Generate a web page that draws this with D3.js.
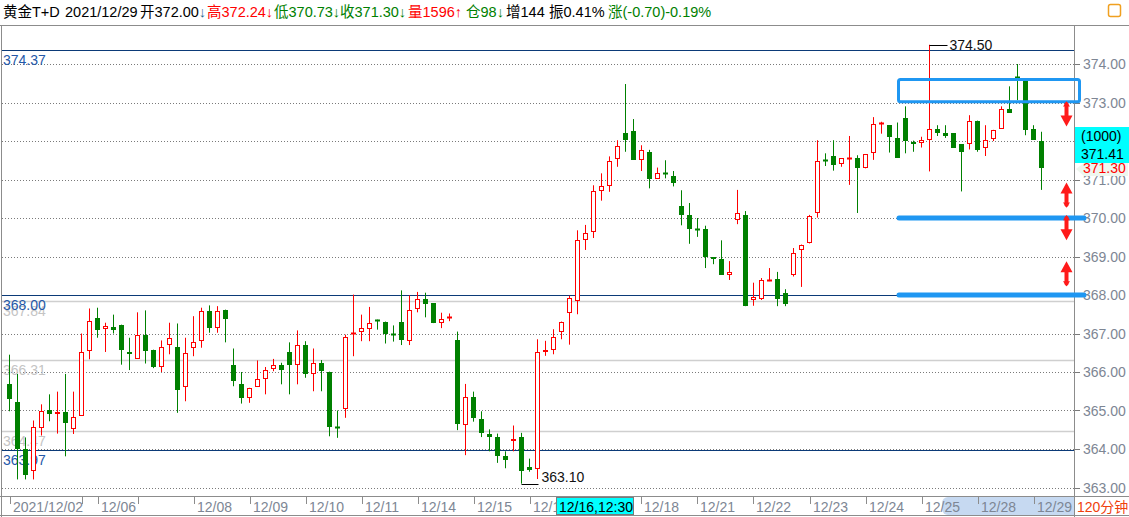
<!DOCTYPE html>
<html><head><meta charset="utf-8">
<script src="https://cdn.jsdelivr.net/npm/d3@7"></script>
<style>
body{margin:0;background:#fff;overflow:hidden;}
svg{display:block;}
text{font-family:"Liberation Sans","Noto Sans CJK SC",Arial,sans-serif;}
</style>
</head><body>
<svg id="c" width="1129" height="517"></svg>
<script>
// ---- data (120-minute bars, 黄金T+D) ----
const opens = [365.68,365.23,363.99,363.42,364.54,365.00,364.90,364.95,364.52,364.86,
366.55,367.41,367.12,367.17,367.23,366.53,366.34,366.95,366.56,366.13,
366.69,366.65,365.61,366.63,366.80,367.58,367.13,367.60,366.19,365.70,
365.33,365.61,365.82,366.07,366.19,366.51,366.19,366.69,365.96,366.24,
366.01,364.57,365.03,367.00,367.03,367.11,367.34,367.31,367.00,367.31,
366.80,367.64,367.90,367.78,367.28,367.41,366.84,364.63,365.36,364.79,
364.40,364.32,363.81,364.22,364.30,363.52,363.48,366.51,366.58,367.05,
367.52,367.84,369.43,369.64,370.71,370.84,371.52,372.20,372.26,371.51,
371.71,371.02,371.17,371.08,370.31,370.08,369.71,369.71,368.98,368.93,
368.53,369.96,370.07,367.87,367.89,368.38,368.41,368.05,368.52,369.18,
369.34,370.12,371.50,371.60,371.39,371.52,371.55,371.29,371.68,372.45,
372.41,372.09,372.59,371.98,371.94,372.03,372.31,372.20,372.20,371.91,
371.91,372.53,371.83,372.06,372.32,372.82,373.66,373.58,372.31,372.00];
const highs = [366.45,365.95,364.30,364.74,365.16,365.42,365.49,365.95,365.49,367.00,
367.65,367.67,367.28,367.49,367.23,366.89,367.55,367.60,366.58,366.82,
367.28,367.26,366.89,367.45,367.67,367.73,367.71,367.62,366.61,366.00,
365.59,366.30,366.13,366.34,366.24,366.77,367.08,366.80,366.61,366.31,
366.01,365.00,366.97,368.01,367.49,367.69,367.36,367.31,367.21,368.12,
367.99,368.08,368.06,367.78,367.54,367.52,367.05,365.69,365.49,364.98,
364.51,364.40,363.94,364.61,364.42,363.75,366.85,366.81,367.11,367.31,
367.98,369.68,369.82,370.85,371.16,371.60,372.02,373.48,372.57,371.89,
371.77,371.31,371.50,371.22,370.72,370.39,370.00,369.80,368.98,369.42,
368.88,370.73,370.18,368.32,368.44,368.70,368.60,368.15,369.22,369.31,
370.08,372.02,371.68,372.02,371.55,372.13,371.63,371.65,372.62,372.50,
372.41,372.48,372.90,372.01,372.11,374.50,372.41,372.41,372.20,371.91,
372.67,372.53,372.41,372.29,372.90,373.42,374.00,373.60,372.41,372.24];
const lows = [364.98,363.21,363.21,363.21,364.35,364.72,364.40,363.81,364.39,364.86,
366.33,366.89,366.52,367.00,366.19,366.05,366.34,366.22,366.10,366.00,
366.46,364.94,365.24,366.41,366.63,367.02,367.02,366.77,365.63,365.18,
365.20,365.61,365.42,366.02,365.68,365.42,365.68,365.85,365.50,365.50,
364.33,364.29,364.81,366.41,366.80,366.80,367.10,366.74,366.79,366.70,
366.70,367.55,367.42,367.27,367.14,367.32,364.49,363.84,364.71,364.31,
363.94,363.64,363.50,363.94,363.10,363.41,363.22,366.42,366.46,366.85,
366.71,367.50,369.17,369.48,370.45,370.68,371.33,371.72,371.51,371.22,
370.77,371.02,371.03,370.82,369.81,369.33,369.51,368.70,368.80,368.52,
368.39,369.84,367.71,367.72,367.87,368.36,367.71,367.71,368.48,368.21,
369.34,370.01,371.35,371.23,371.33,370.86,370.13,371.29,371.51,372.19,
371.70,371.57,371.68,371.72,371.83,371.21,372.13,372.08,371.82,370.69,
371.78,371.72,371.61,372.00,372.32,372.73,373.06,372.15,372.03,370.73];
const closes = [365.31,363.99,363.32,364.58,364.99,364.90,364.95,364.67,364.84,366.52,
367.33,367.10,367.20,367.10,366.58,366.48,366.95,366.55,366.13,366.64,
366.89,365.53,366.50,366.78,367.58,367.13,367.58,367.38,365.76,365.33,
365.59,365.81,366.06,366.19,366.06,366.19,366.69,365.96,366.24,366.02,
364.57,364.55,366.91,367.02,367.15,367.26,367.32,367.00,366.99,366.84,
367.61,367.90,367.76,367.27,367.38,367.43,364.66,365.36,364.80,364.42,
364.30,363.81,363.71,364.25,363.42,363.45,366.51,366.57,366.90,367.31,
367.91,369.42,369.62,370.69,370.82,371.49,371.88,372.03,371.51,371.76,
371.02,371.16,371.15,370.91,370.08,369.71,369.70,368.99,368.94,368.52,
368.59,370.14,367.71,367.96,368.39,368.40,367.89,367.76,369.10,369.31,
370.05,371.49,371.49,371.38,371.55,371.57,371.29,371.65,372.45,372.46,
372.11,371.57,371.99,371.93,372.02,372.30,372.22,372.13,371.82,371.72,
372.53,371.77,372.02,372.29,372.84,372.73,373.63,372.29,372.03,371.30];

const priceTicks = [363,364,365,366,367,368,369,370,371,372,373,374];
const priceTickLabels = ["363.00","364.00","365.00","366.00","367.00","368.00","369.00","370.00","371.00","372.00","373.00","374.00"];
const dateTickIdx = [0,9,11,16,23,30,37,44,51,58,65,72,79,86,93,100,107,114,121,128];
const dateTickLabels = ["2021/12/02","","12/06","","12/08","12/09","12/10","12/11","12/14","12/15","12/16","","12/18","12/21","12/22","12/23","12/24","12/25","12/28","12/29"];
const navyLevels = [374.37, 368.00, 363.97];
const navyLabels = ["374.37","368.00","363.97"];
const grayLevels = [367.84, 366.31, 364.47];
const grayLabels = ["367.84","366.31","364.47"];
const drawnLevels = [370.00, 368.00];         // user-drawn thick lines
const boxLevels = [373.60, 373.02];           // user-drawn rectangle
const arrowDefs = [[372.7,"down"],[370.6,"up"],[369.75,"down"],[368.55,"up"]];
const headerParts = [
  [["黄金T+D","#000"]],
  [["2021/12/29","#000"]],
  [["开372.00","#000"],["↓","#2a6b8c"]],
  [["高372.24","#ff0000"],["↓","#ff0000"]],
  [["低370.73","#008000"],["↓","#008000"]],
  [["收371.30","#008000"],["↓","#008000"]],
  [["量1596","#ff0000"],["↑","#ff0000"]],
  [["仓98","#008000"],["↓","#008000"]],
  [["增144","#000"]],
  [["振0.41%","#000"]],
  [["涨(-0.70)-0.19%","#008000"]]
];
const headerX = [3,65,140,207,274,340,408,466,506,549,608];
const cursorTimeLabel = "12/16,12:30";
const cursorVolLabel = "(1000)";
const cursorPriceLabel = "371.41";
const lastPriceLabel = "371.30";
const periodLabel = "120分钟";

// ---- drawing ----
const W = 1129, H = 517;
const plotL = 2, plotR = 1074, plotT = 25, plotB = 496;
const svg = d3.select("#c");
const n = opens.length;
const x = d3.scaleLinear().domain([0, n - 1]).range([9.5, 9.5 + 8 * (n - 1)]);
const y = d3.scaleLinear().domain([363, 374]).range([487.5, 64]);
const py = v => Math.round(y(v)) + 0.5;
const cursorBox = {x: 1075, y: 127, w: 54, h: 36};

// header
const hg = svg.append("g");
headerParts.forEach((parts, k) => {
  const t = hg.append("text").attr("x", headerX[k]).attr("y", 17).attr("font-size", 14.5);
  parts.forEach(p => t.append("tspan").text(p[0]).attr("fill", p[1]));
});
// top-right icon
svg.append("rect").attr("x", 1108.5).attr("y", 4.5).attr("width", 12).attr("height", 12)
  .attr("rx", 2).attr("fill", "#fff").attr("stroke", "#f0a020").attr("stroke-width", 1.5);

// frame
const frame = svg.append("g").attr("stroke", "#8c8c8c").attr("stroke-width", 1);
frame.append("line").attr("x1", 0).attr("x2", W).attr("y1", plotT + 0.5).attr("y2", plotT + 0.5);
frame.append("line").attr("x1", plotL - 0.5).attr("x2", plotL - 0.5).attr("y1", plotT).attr("y2", H);
frame.append("line").attr("x1", plotR + 0.5).attr("x2", plotR + 0.5).attr("y1", plotT).attr("y2", H);
frame.append("line").attr("x1", 0).attr("x2", W).attr("y1", plotB + 0.5).attr("y2", plotB + 0.5);
frame.append("line").attr("x1", 0).attr("x2", W).attr("y1", 515.5).attr("y2", 515.5);

// grid (dotted) + right axis
const grid = svg.append("g");
priceTicks.forEach((v, k) => {
  grid.append("line").attr("x1", plotL).attr("x2", plotR).attr("y1", py(v)).attr("y2", py(v))
    .attr("stroke", "#7a7a7a").attr("stroke-dasharray", "1,2");
  grid.append("line").attr("x1", plotR + 1).attr("x2", plotR + 6).attr("y1", py(v)).attr("y2", py(v))
    .attr("stroke", "#7a7a7a");
  const ty = y(v);
  const hidden = ty > cursorBox.y && ty < cursorBox.y + cursorBox.h;   // covered by cursor label
  if (!hidden) {
    grid.append("text").attr("x", 1083).attr("y", ty + 5).attr("font-size", 14)
      .attr("fill", "#7d8694").text(priceTickLabels[k]);
  }
});

// gray reference lines
grayLevels.forEach((v, k) => {
  svg.append("line").attr("x1", plotL).attr("x2", plotR).attr("y1", py(v)).attr("y2", py(v))
    .attr("stroke", "#cfcfcf").attr("stroke-width", 1.5);
  svg.append("text").attr("x", 3).attr("y", y(v) + 15).attr("font-size", 14)
    .attr("fill", "#c4c4c4").text(grayLabels[k]);
});
// navy reference lines
navyLevels.forEach((v, k) => {
  svg.append("line").attr("x1", plotL).attr("x2", plotR).attr("y1", py(v)).attr("y2", py(v))
    .attr("stroke", "#0b3a78").attr("stroke-width", 1.2);
  svg.append("text").attr("x", 3).attr("y", y(v) + 15).attr("font-size", 14)
    .attr("fill", "#2458a8").text(navyLabels[k]);
});

// candles
const cg = svg.append("g");
for (let i = 0; i < n; i++) {
  const o = opens[i], h = highs[i], l = lows[i], c = closes[i];
  const up = c >= o;
  const col = up ? "#ff0000" : "#008000";
  const cx = x(i);
  cg.append("line").attr("x1", cx).attr("x2", cx).attr("y1", y(h)).attr("y2", y(l))
    .attr("stroke", col).attr("stroke-width", 1);
  const top = Math.round(y(Math.max(o, c))), bot = Math.round(y(Math.min(o, c)));
  if (bot - top < 2) {
    cg.append("rect").attr("x", cx - 2.5).attr("y", top - 0.5).attr("width", 5).attr("height", 2)
      .attr("fill", col);
  } else if (up) {
    cg.append("rect").attr("x", cx - 2).attr("y", top + 0.5).attr("width", 4).attr("height", bot - top - 1)
      .attr("fill", "#fff").attr("stroke", col).attr("stroke-width", 1);
  } else {
    cg.append("rect").attr("x", cx - 2.5).attr("y", top).attr("width", 5).attr("height", bot - top)
      .attr("fill", col);
  }
}

// max / min annotations
const iMax = d3.maxIndex(highs), iMin = d3.minIndex(lows);
svg.append("line").attr("x1", x(iMax)).attr("x2", x(iMax) + 18).attr("y1", py(highs[iMax])).attr("y2", py(highs[iMax]))
  .attr("stroke", "#000");
svg.append("text").attr("x", x(iMax) + 20).attr("y", y(highs[iMax]) + 5).attr("font-size", 14)
  .attr("fill", "#111").text(highs[iMax].toFixed(2));
svg.append("line").attr("x1", x(iMin)).attr("x2", x(iMin) + 17).attr("y1", py(lows[iMin])).attr("y2", py(lows[iMin]))
  .attr("stroke", "#000");
svg.append("text").attr("x", x(iMin) + 20).attr("y", y(lows[iMin]) - 2).attr("font-size", 14)
  .attr("fill", "#111").text(lows[iMin].toFixed(2));

// user-drawn shapes
const blue = "#1f97f2";
svg.append("rect").attr("x", 898.5).attr("y", y(boxLevels[0])).attr("width", 181)
  .attr("height", y(boxLevels[1]) - y(boxLevels[0])).attr("rx", 2)
  .attr("fill", "none").attr("stroke", blue).attr("stroke-width", 3);
drawnLevels.forEach(v => {
  svg.append("line").attr("x1", 899).attr("x2", 1084).attr("y1", y(v)).attr("y2", y(v))
    .attr("stroke", blue).attr("stroke-width", 5).attr("stroke-linecap", "round");
});
arrowDefs.forEach(([v, dir]) => {
  const cy = y(v), ax = 1066.5, half = 12.5;
  const s = dir === "down" ? 1 : -1;
  const tip = cy + s * half, base = cy - s * half;
  const headBase = tip - s * 11;
  const pts = [
    [ax - 2, base + s * 2], [ax, base], [ax + 2, base + s * 2], [ax + 2, headBase], [ax + 6, headBase],
    [ax, tip], [ax - 6, headBase], [ax - 2, headBase]
  ];
  svg.append("polygon").attr("points", pts.map(p => p.join(",")).join(" ")).attr("fill", "#ff1a1a");
  svg.append("polygon").attr("points", [[ax - 3.5, base + s * 5], [ax, base], [ax + 3.5, base + s * 5]].map(p => p.join(",")).join(" "))
    .attr("fill", "#ff1a1a");
});

// last price marker
svg.append("polygon").attr("points", "1076,169 1084,163 1128,163 1128,176 1084,176").attr("fill", "#eef6ee");
svg.append("text").attr("x", 1083).attr("y", y(closes[n - 1]) + 5).attr("font-size", 14)
  .attr("fill", "#ff0000").text(lastPriceLabel);
// cursor price box
svg.append("rect").attr("x", cursorBox.x).attr("y", cursorBox.y).attr("width", cursorBox.w).attr("height", cursorBox.h).attr("fill", "#00ffff");
svg.append("text").attr("x", 1081).attr("y", 141).attr("font-size", 14).attr("fill", "#000").text(cursorVolLabel);
svg.append("text").attr("x", 1081).attr("y", 159).attr("font-size", 14).attr("fill", "#000").text(cursorPriceLabel);

// x axis
svg.append("rect").attr("x", 942).attr("y", 497).attr("width", 132).attr("height", 18).attr("rx", 6)
  .attr("fill", "#c6d9f1");
svg.append("rect").attr("x", 950).attr("y", 497).attr("width", 124).attr("height", 18).attr("fill", "#c6d9f1");
const xg = svg.append("g");
dateTickIdx.forEach((idx, k) => {
  const tx = Math.round(x(idx)) + 0.5;
  xg.append("line").attr("x1", tx).attr("x2", tx).attr("y1", 497).attr("y2", 504).attr("stroke", "#8c8c8c");
  if (dateTickLabels[k]) {
    const lbl = xg.append("text").attr("x", tx + 2.5).attr("y", 512).attr("font-size", 14)
      .attr("fill", "#7d8694").text(dateTickLabels[k]);
    if (tx + 2.5 < 557 && tx + 40 > 557) lbl.attr("textLength", null).text(dateTickLabels[k].slice(0, 4));
  }
});
svg.append("rect").attr("x", 556.5).attr("y", 497.5).attr("width", 77).attr("height", 17)
  .attr("fill", "#00ffff").attr("stroke", "#7a7a7a");
svg.append("text").attr("x", 559).attr("y", 512).attr("font-size", 14).attr("fill", "#000").text(cursorTimeLabel);
svg.append("text").attr("x", 1077).attr("y", 512).attr("font-size", 14).attr("fill", "#f0400c").text(periodLabel);
</script>
</body></html>
